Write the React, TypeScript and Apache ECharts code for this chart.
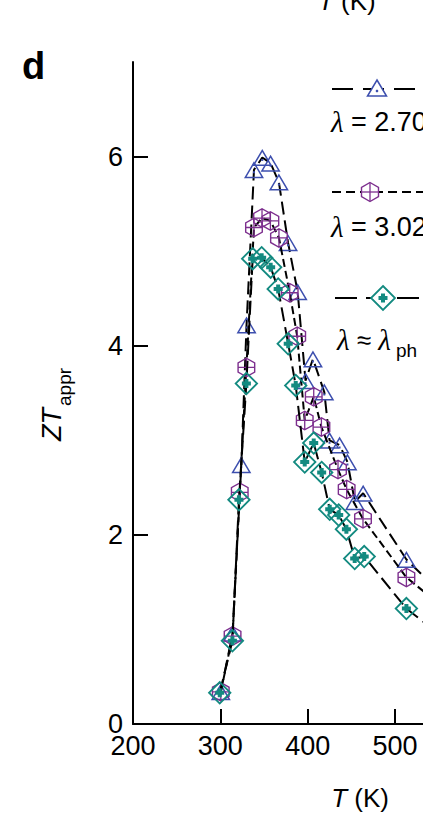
import React, { useEffect, useRef } from "react";
import * as echarts from "echarts";

// ---- data ----
const T_270 = [300.5, 314, 324, 330, 338.5, 348, 357.5, 367, 377.5, 388.5, 397.5, 406, 419, 425, 436.5, 445.5, 454, 463.5, 513, 545];
const ZT_270 = [0.34, 0.96, 2.74, 4.22, 5.86, 5.99, 5.93, 5.73, 5.09, 4.57, 3.63, 3.86, 3.51, 3.0, 2.95, 2.77, 2.35, 2.44, 1.74, 1.45];

const T_302 = [300.5, 314, 322.2, 329.8, 338.5, 347.7, 357.3, 367.1, 379.4, 388, 396.6, 406.9, 415.7, 434.7, 444.6, 463.3, 513, 545];
const ZT_302 = [0.34, 0.93, 2.45, 3.77, 5.25, 5.35, 5.32, 5.14, 4.56, 4.1, 3.21, 3.46, 3.14, 2.69, 2.48, 2.17, 1.55, 1.31];

const T_PH = [299.3, 313.8, 321.3, 329.8, 337, 347.3, 357.6, 366.2, 377.7, 386.3, 396.6, 406.9, 416, 425.2, 435.5, 444.3, 453.8, 464.7, 513, 545];
const ZT_PH = [0.33, 0.88, 2.37, 3.6, 4.92, 4.93, 4.83, 4.6, 4.02, 3.58, 2.77, 2.97, 2.66, 2.27, 2.21, 2.06, 1.75, 1.77, 1.22, 0.99];

const X_TICKS = [200, 300, 400, 500];
const Y_TICKS = [0, 2, 4, 6];

const LEGEND_LABELS = ["2.70", "3.02"];

const BLUE = "#3d4fae";
const PURPLE = "#7d2f8e";
const TEAL = "#138a80";
const FONT = "'Liberation Sans', Arial, Helvetica, sans-serif";
const SERIF = "'Liberation Serif', 'DejaVu Serif', serif";

// marker shapes (filled rings, so the inside stays transparent)
const TRI_PATH =
  "path://M10 0 L20 17 L0 17 Z M10 2.96 L2.62 15.5 L17.38 15.5 Z M9 10 L11 10 L11 12 L9 12 Z";
const HEX_PATH =
  "path://M9 0 L18 5 L18 15 L9 20 L0 15 L0 5 Z M9 1.5 L1.4 5.8 L1.4 14.2 L9 18.5 L16.6 14.2 L16.6 5.8 Z " +
  "M8.35 1.5 L9.65 1.5 L9.65 18.5 L8.35 18.5 Z M1.4 9.35 L16.6 9.35 L16.6 10.65 L1.4 10.65 Z";
const DIA_PATH =
  "path://M12 0 L24 12 L12 24 L0 12 Z M12 2.6 L2.6 12 L12 21.4 L21.4 12 Z " +
  "M10 7.5 L14 7.5 L14 10 L16.5 10 L16.5 14 L14 14 L14 16.5 L10 16.5 L10 14 L7.5 14 L7.5 10 L10 10 Z";

function pairs(xs: number[], ys: number[]) {
  return xs.map((x, i) => [x, ys[i]]);
}

export default function App() {
  const ref = useRef<HTMLDivElement>(null);

  useEffect(() => {
    if (!ref.current) return;
    const chart = echarts.init(ref.current, null, { renderer: "svg" });

    const lineSeries = (
      name: string,
      data: number[][],
      symbol: string,
      size: number[],
      color: string,
      dash: number[],
      z: number
    ) => ({
      name,
      type: "line",
      data,
      symbol,
      symbolSize: size,
      showAllSymbol: true,
      clip: true,
      z,
      itemStyle: { color, borderWidth: 0 },
      lineStyle: { color: "#000", width: 2, type: dash },
      emphasis: { disabled: true },
    });

    const lam = { fontStyle: "italic", fontFamily: SERIF, fontSize: 29 };

    chart.setOption({
      animation: false,
      grid: { left: 133, right: 0, top: 62, bottom: 95, containLabel: false },
      xAxis: {
        type: "value",
        min: 200,
        max: 532,
        interval: 100,
        splitLine: { show: false },
        axisLine: { show: true, lineStyle: { color: "#000", width: 2 } },
        axisTick: { show: true, inside: true, length: 15, lineStyle: { color: "#000", width: 2 }, customValues: X_TICKS },
        axisLabel: { color: "#000", fontSize: 27, fontFamily: FONT, margin: 8, customValues: X_TICKS },
      },
      yAxis: {
        type: "value",
        min: 0,
        max: 7,
        interval: 2,
        splitLine: { show: false },
        axisLine: { show: true, lineStyle: { color: "#000", width: 2 } },
        axisTick: { show: true, inside: true, length: 15, lineStyle: { color: "#000", width: 2 }, customValues: Y_TICKS },
        axisLabel: { color: "#000", fontSize: 27, fontFamily: FONT, margin: 10, customValues: Y_TICKS },
      },
      series: [
        lineSeries("λ = 2.70", pairs(T_270, ZT_270), TRI_PATH, [20, 17], BLUE, [13, 6], 2),
        lineSeries("λ = 3.02", pairs(T_302, ZT_302), HEX_PATH, [18, 20], PURPLE, [8, 4], 3),
        lineSeries("λ ≈ λph", pairs(T_PH, ZT_PH), DIA_PATH, [24, 24], TEAL, [14, 6], 4),
      ],
      graphic: [
        // panel letter
        { type: "text", x: 22, y: 47, style: { text: "d", fontSize: 38, fontWeight: 900, fontFamily: FONT, fill: "#000" } },
        // cut-off axis name of the panel above
        {
          type: "text", x: 318, y: 14,
          style: {
            text: "{i|T} (K)", fontSize: 26, fontFamily: FONT, fill: "#000", verticalAlign: "bottom",
            rich: { i: { fontStyle: "italic", fontSize: 26, fontFamily: FONT } },
          },
        },
        // x axis name
        {
          type: "text", x: 360, y: 798,
          style: {
            text: "{i|T} (K)", fontSize: 26, fontFamily: FONT, fill: "#000", align: "center", verticalAlign: "middle",
            rich: { i: { fontStyle: "italic", fontSize: 26, fontFamily: FONT } },
          },
        },
        // y axis name
        {
          type: "group", x: 52, y: 404, rotation: Math.PI / 2,
          children: [
            { type: "text", x: -4, y: 0, style: { text: "ZT", fontStyle: "italic", fontSize: 27, fontFamily: FONT, fill: "#000", align: "right", verticalAlign: "middle" } },
            { type: "text", x: -2, y: 12, style: { text: "appr", fontSize: 19, fontFamily: FONT, fill: "#000", align: "left", verticalAlign: "middle" } },
          ],
        },
        // legend 1
        { type: "line", shape: { x1: 332, y1: 89, x2: 423, y2: 89 }, style: { stroke: "#000", lineWidth: 2, lineDash: [21, 10] } },
        { type: "polygon", shape: { points: [[377, 80], [386.5, 96], [367.5, 96]] }, style: { fill: "#fff", stroke: BLUE, lineWidth: 1.5 } },
        { type: "circle", shape: { cx: 377, cy: 91, r: 1.3 }, style: { fill: BLUE } },
        {
          type: "text", x: 331, y: 122,
          style: {
            text: "{l|λ} = " + LEGEND_LABELS[0], fontSize: 27, fontFamily: FONT, fill: "#000", verticalAlign: "middle",
            rich: { l: lam },
          },
        },
        // legend 2
        { type: "line", shape: { x1: 332, y1: 192, x2: 423, y2: 192 }, style: { stroke: "#000", lineWidth: 2, lineDash: [9, 5] } },
        { type: "polygon", shape: { points: [[370, 182.5], [378.5, 187.3], [378.5, 196.7], [370, 201.5], [361.5, 196.7], [361.5, 187.3]] }, style: { fill: "#fff", stroke: PURPLE, lineWidth: 1.4 } },
        { type: "line", shape: { x1: 370, y1: 183, x2: 370, y2: 201 }, style: { stroke: PURPLE, lineWidth: 1.3 } },
        { type: "line", shape: { x1: 362, y1: 192, x2: 378, y2: 192 }, style: { stroke: PURPLE, lineWidth: 1.3 } },
        {
          type: "text", x: 331, y: 227,
          style: {
            text: "{l|λ} = " + LEGEND_LABELS[1], fontSize: 27, fontFamily: FONT, fill: "#000", verticalAlign: "middle",
            rich: { l: lam },
          },
        },
        // legend 3
        { type: "line", shape: { x1: 335, y1: 298, x2: 423, y2: 298 }, style: { stroke: "#000", lineWidth: 2, lineDash: [22, 9] } },
        { type: "polygon", shape: { points: [[383, 286], [395, 298], [383, 310], [371, 298]] }, style: { fill: "#fff", stroke: TEAL, lineWidth: 1.8 } },
        { type: "polygon", shape: { points: [[381, 293.5], [385, 293.5], [385, 296], [387.5, 296], [387.5, 300], [385, 300], [385, 302.5], [381, 302.5], [381, 300], [378.5, 300], [378.5, 296], [381, 296]] }, style: { fill: TEAL } },
        {
          type: "text", x: 337, y: 340,
          style: {
            text: "{l|λ} ≈ {l|λ}", fontSize: 26, fontFamily: FONT, fill: "#000", verticalAlign: "middle",
            rich: { l: lam },
          },
        },
        { type: "text", x: 396, y: 350, style: { text: "ph", fontSize: 19, fontFamily: FONT, fill: "#000", verticalAlign: "middle" } },
      ],
    });

    return () => chart.dispose();
  }, []);

  return <div ref={ref} style={{ position: "absolute", left: 0, top: 0, width: 423, height: 819 }} />;
}
